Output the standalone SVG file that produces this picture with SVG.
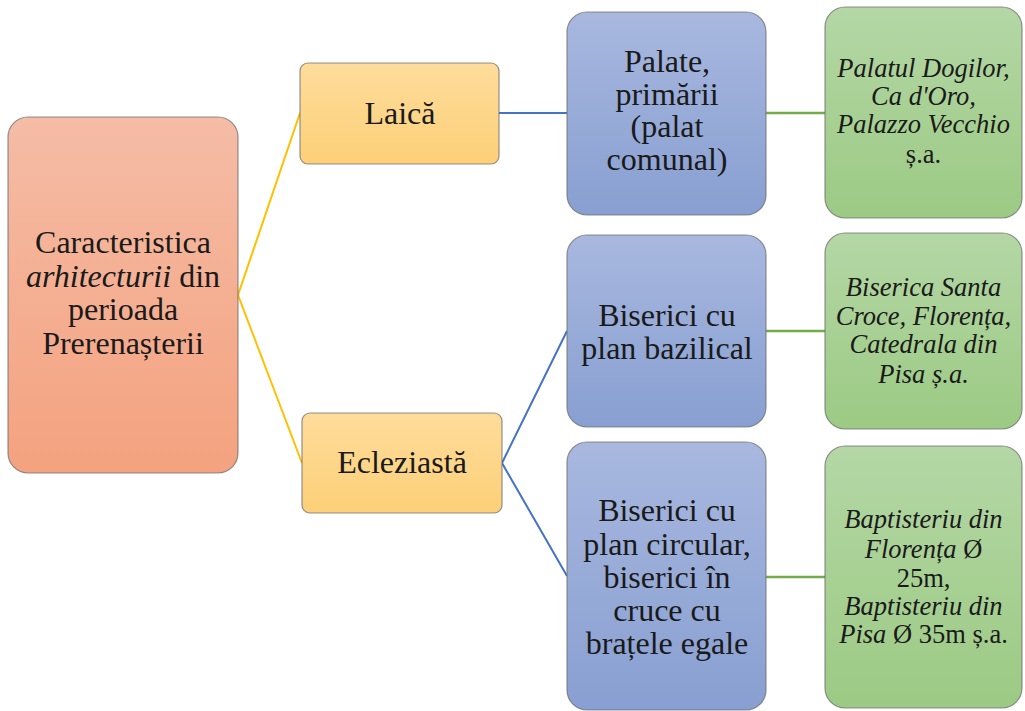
<svg xmlns="http://www.w3.org/2000/svg" width="1025" height="711" viewBox="0 0 1025 711">
<defs>
<linearGradient id="gOrange" x1="0" y1="0" x2="0" y2="1"><stop offset="0" stop-color="#F5BCA6"/><stop offset="1" stop-color="#F4A27F"/></linearGradient>
<linearGradient id="gYellow" x1="0" y1="0" x2="0" y2="1"><stop offset="0" stop-color="#FEDC9B"/><stop offset="1" stop-color="#FDD078"/></linearGradient>
<linearGradient id="gBlue" x1="0" y1="0" x2="0" y2="1"><stop offset="0" stop-color="#A8B8DF"/><stop offset="1" stop-color="#889FD1"/></linearGradient>
<linearGradient id="gGreen" x1="0" y1="0" x2="0" y2="1"><stop offset="0" stop-color="#B4D7A5"/><stop offset="1" stop-color="#9CCA84"/></linearGradient>
</defs>
<style>
.box{stroke:#6f6f6f;stroke-opacity:0.75;stroke-width:1.2}
text{font-family:'Liberation Serif','Times New Roman',serif;fill:#1a1a1a;text-anchor:middle}
.l{font-size:32px}
.g{font-size:26.5px;font-style:italic}
.up{font-style:normal}
.it{font-style:italic}
.cy{stroke:#FFC000;stroke-width:2;fill:none}
.cb{stroke:#4472C4;stroke-width:2;fill:none}
.cg{stroke:#70AD47;stroke-width:2.5;fill:none}
</style>
<rect width="1025" height="711" fill="#ffffff"/>
<g id="connectors">
<polyline class="cy" points="300,113 238,295 302,463"/>
<line class="cb" x1="499" y1="113" x2="567" y2="113"/>
<polyline class="cb" points="567,331 502,463 567,576"/>
<line class="cg" x1="766" y1="113" x2="825" y2="113"/>
<line class="cg" x1="766" y1="331" x2="825" y2="331"/>
<line class="cg" x1="766" y1="577" x2="825" y2="577"/>
</g>
<g id="root">
<rect class="box" x="8" y="117" width="230" height="356" rx="20" fill="url(#gOrange)"/>
<text class="l"><tspan x="123" y="253">Caracteristica</tspan><tspan x="123" y="287"><tspan class="it">arhitecturii</tspan> din</tspan><tspan x="123" y="320">perioada</tspan><tspan x="123" y="354">Prerenașterii</tspan></text>
</g>
<g id="laica">
<rect class="box" x="300" y="63" width="199" height="101" rx="8" fill="url(#gYellow)"/>
<text class="l" x="400" y="124">Laică</text>
</g>
<g id="ecleziasta">
<rect class="box" x="302" y="413" width="200" height="100" rx="8" fill="url(#gYellow)"/>
<text class="l" x="402" y="473">Ecleziastă</text>
</g>
<g id="palate">
<rect class="box" x="567" y="12" width="199" height="203" rx="20" fill="url(#gBlue)"/>
<text class="l"><tspan x="667" y="72">Palate,</tspan><tspan x="667" y="104.5">primării</tspan><tspan x="667" y="137">(palat</tspan><tspan x="667" y="169.5">comunal)</tspan></text>
</g>
<g id="bazilical">
<rect class="box" x="567" y="235" width="199" height="192" rx="20" fill="url(#gBlue)"/>
<text class="l"><tspan x="667" y="325.5">Biserici cu</tspan><tspan x="667" y="358.5">plan bazilical</tspan></text>
</g>
<g id="circular">
<rect class="box" x="567" y="442" width="199" height="268" rx="20" fill="url(#gBlue)"/>
<text class="l"><tspan x="667" y="521">Biserici cu</tspan><tspan x="667" y="555">plan circular,</tspan><tspan x="667" y="588">biserici în</tspan><tspan x="667" y="621">cruce cu</tspan><tspan x="667" y="654">brațele egale</tspan></text>
</g>
<g id="ex-palate">
<rect class="box" x="825" y="7" width="197" height="211" rx="20" fill="url(#gGreen)"/>
<text class="g"><tspan x="923.5" y="77">Palatul Dogilor,</tspan><tspan x="923.5" y="105">Ca d'Oro,</tspan><tspan x="923.5" y="133">Palazzo Vecchio</tspan><tspan x="923.5" y="163" class="up">ș.a.</tspan></text>
</g>
<g id="ex-bazilical">
<rect class="box" x="825" y="233" width="197" height="196" rx="20" fill="url(#gGreen)"/>
<text class="g"><tspan x="923.5" y="296">Biserica Santa</tspan><tspan x="923.5" y="325">Croce, Florența,</tspan><tspan x="923.5" y="353">Catedrala din</tspan><tspan x="923.5" y="383">Pisa ș.a.</tspan></text>
</g>
<g id="ex-circular">
<rect class="box" x="825" y="446" width="197" height="262" rx="20" fill="url(#gGreen)"/>
<text class="g"><tspan x="923.5" y="528">Baptisteriu din</tspan><tspan x="923.5" y="558">Florența <tspan class="up">Ø</tspan></tspan><tspan x="923.5" y="587" class="up">25m,</tspan><tspan x="923.5" y="615">Baptisteriu din</tspan><tspan x="923.5" y="643">Pisa <tspan class="up">Ø 35m ș.a.</tspan></tspan></text>
</g>
</svg>
